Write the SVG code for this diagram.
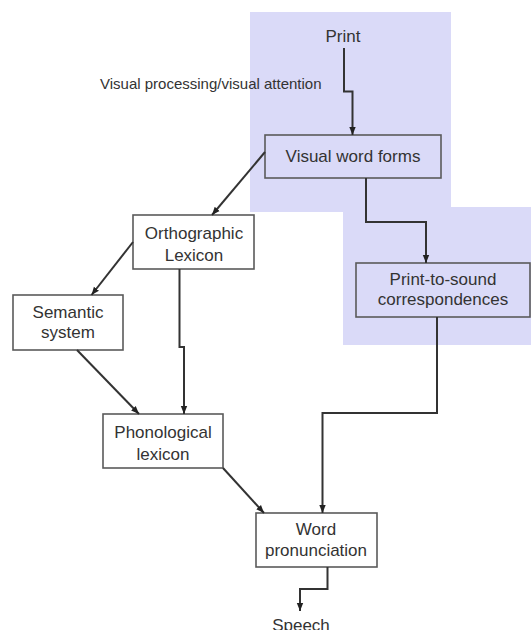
<svg xmlns="http://www.w3.org/2000/svg" width="531" height="630" viewBox="0 0 531 630">
  <style>
    text { font-family: "Liberation Sans", Arial, sans-serif; fill: #333; }
    .node { font-size: 17px; text-anchor: middle; }
    .note { font-size: 15px; }
    .box { fill: #fff; stroke: #5a5a5a; stroke-width: 1.6; }
    .box.clear { fill: none; }
    .zone { fill: #dadaf8; }
    .link { fill: none; stroke: #333; stroke-width: 2; marker-end: url(#arrow); }
  </style>
  <defs>
    <marker id="arrow" markerUnits="userSpaceOnUse" markerWidth="8" markerHeight="8" viewBox="0 0 8 8" refX="8" refY="4" orient="auto">
      <path d="M0,0.8 L8,4 L0,7.2 Z" fill="#222"/>
    </marker>
  </defs>

  <!-- shaded visual-processing zone -->
  <g id="zone">
    <rect class="zone" x="250" y="12" width="201" height="200"/>
    <rect class="zone" x="343" y="207" width="188" height="138"/>
  </g>

  <text class="note" x="100" y="89">Visual processing/visual attention</text>

  <g id="print">
    <text class="node" x="343" y="42">Print</text>
  </g>

  <g id="visual-word-forms">
    <rect class="box clear" x="265" y="135" width="176" height="43"/>
    <text class="node" x="353" y="162">Visual word forms</text>
  </g>

  <g id="orthographic-lexicon">
    <rect class="box" x="133" y="215" width="121" height="54"/>
    <text class="node" x="194" y="239">Orthographic</text>
    <text class="node" x="194" y="261">Lexicon</text>
  </g>

  <g id="print-to-sound">
    <rect class="box clear" x="356" y="263" width="174" height="54"/>
    <text class="node" x="443" y="285">Print-to-sound</text>
    <text class="node" x="443" y="305">correspondences</text>
  </g>

  <g id="semantic-system">
    <rect class="box" x="13" y="295" width="110" height="55"/>
    <text class="node" x="68" y="318">Semantic</text>
    <text class="node" x="68" y="338">system</text>
  </g>

  <g id="phonological-lexicon">
    <rect class="box" x="103" y="414" width="120" height="54"/>
    <text class="node" x="163" y="438">Phonological</text>
    <text class="node" x="163" y="460">lexicon</text>
  </g>

  <g id="word-pronunciation">
    <rect class="box" x="256" y="513" width="121" height="54"/>
    <text class="node" x="316" y="535">Word</text>
    <text class="node" x="316" y="556">pronunciation</text>
  </g>

  <g id="speech">
    <text class="node" x="301" y="631">Speech</text>
  </g>

  <g id="connectors">
    <path class="link" d="M344,48 V91.5 H352.5 V135"/>
    <path class="link" d="M265,152 L212,215"/>
    <path class="link" d="M366,178 V222 H426 V263"/>
    <path class="link" d="M133,242 L91.5,295"/>
    <path class="link" d="M179.5,269 V347 H184 V414"/>
    <path class="link" d="M77,350 L139,414"/>
    <path class="link" d="M437,317 V413 H322.5 V513"/>
    <path class="link" d="M223,468 L264,513"/>
    <path class="link" d="M327.5,567 V589 H300 V611"/>
  </g>
</svg>
